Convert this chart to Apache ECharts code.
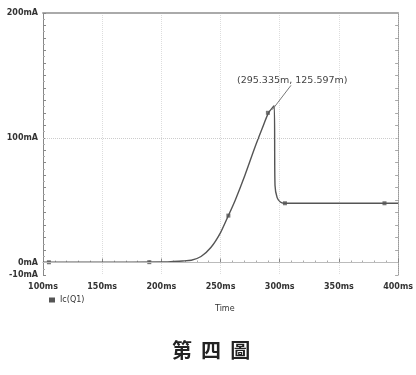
<!DOCTYPE html>
<html>
<head>
<meta charset="utf-8">
<script src="https://cdn.jsdelivr.net/npm/echarts@6/dist/echarts.min.js"></script>
<style>
  html, body { margin: 0; padding: 0; background: #fff; }
  #chart { width: 416px; height: 375px; }
</style>
</head>
<body>
<div id="chart"></div>
<script>
// 时间 (ms) 与 Ic(Q1) (mA)
const timeMs = [100, 150, 200, 210, 218, 225.3, 233.5, 241.8, 250, 256.6, 262.4, 270.6, 278.9, 285.4, 290.5, 295.3, 296.0, 297.8, 300.5, 303.6, 330, 360, 400];
const icMa = [0.2, 0.2, 0.4, 0.8, 1.2, 1.8, 4.8, 12, 24, 37.6, 50, 70, 92, 108, 120, 125.6, 62, 52, 48.5, 47.5, 47.5, 47.5, 47.5];
// 曲线上的标记点
const markerT = [105, 189.8, 256.6, 290.0, 304.4, 388.5];
const markerV = [0.2, 0.3, 37.6, 120, 47.5, 47.5];
const yLabels = [-10, 0, 100, 200];
const peak = [295.335, 125.597];

const chart = echarts.init(document.getElementById('chart'));
const textCol = '#333';

const option = {
  animation: false,
  grid: { left: 43, right: 9, top: 13, bottom: 100 },
  legend: {
    left: 44, top: 291, itemWidth: 6, itemHeight: 5, itemGap: 4,
    textStyle: { fontSize: 8, color: textCol, fontFamily: 'DejaVu Sans' },
    data: [{ name: 'Ic(Q1)', icon: 'rect' }]
  },
  xAxis: [{
    type: 'value', min: 100, max: 400, interval: 50,
    axisLine: { lineStyle: { color: '#999', type: 'dotted', width: 1 } },
    axisTick: { inside: true, length: 4, lineStyle: { color: '#888' } },
    minorTick: { show: true, splitNumber: 5, length: 2, lineStyle: { color: '#aaa' } },
    axisLabel: {
      formatter: v => v + 'ms', fontSize: 8, fontWeight: 'bold', color: textCol,
      fontFamily: 'DejaVu Sans', margin: 8
    },
    splitLine: { show: true, lineStyle: { color: '#ddd', type: 'dotted' } }
  }, {
    type: 'value', min: 100, max: 400, interval: 50, position: 'top',
    axisLine: { show: true, onZero: false, lineStyle: { color: '#aaa', width: 2 } },
    axisTick: { show: false }, axisLabel: { show: false }, splitLine: { show: false }
  }],
  yAxis: [{
    type: 'value', min: -10, max: 200, interval: 10,
    axisLine: { show: true, lineStyle: { color: '#888' } },
    axisTick: { show: true, inside: true, length: 3, lineStyle: { color: '#888' } },
    minorTick: { show: true, splitNumber: 2, length: 2, lineStyle: { color: '#aaa' } },
    axisLabel: {
      formatter: v => (yLabels.includes(v) ? v + 'mA' : ''),
      fontSize: 8, fontWeight: 'bold', color: textCol, fontFamily: 'DejaVu Sans', margin: 5
    },
    splitLine: { show: false }
  }, {
    type: 'value', min: -10, max: 200, interval: 10, position: 'right',
    axisLine: { show: true, onZero: false, lineStyle: { color: '#999', type: 'dotted' } },
    axisTick: { show: true, inside: true, length: 3, lineStyle: { color: '#aaa' } },
    axisLabel: { show: false }, splitLine: { show: false }
  }],
  series: [{
    name: 'Ic(Q1)', type: 'line', showSymbol: false, smooth: 0.25,
    lineStyle: { color: '#555', width: 1.4 },
    itemStyle: { color: '#555' },
    data: timeMs.map((t, i) => [t, icMa[i]]),
    markLine: {
      silent: true, symbol: 'none',
      lineStyle: { color: '#ccc', type: 'dotted', width: 1 },
      label: { show: false },
      data: [{ yAxis: 100 }, { yAxis: 0, lineStyle: { color: '#bbb', type: 'solid' } }]
    }
  }, {
    name: 'Ic(Q1)', type: 'scatter', symbol: 'rect', symbolSize: 4,
    itemStyle: { color: '#555' },
    data: markerT.map((t, i) => [t, markerV[i]])
  }, {
    type: 'line', symbol: 'none', silent: true,
    lineStyle: { color: '#777', width: 1 },
    data: [[peak[0] - 1.5, peak[1] - 3], [309.5, 142]]
  }]
};
chart.setOption(option);

const lab = chart.convertToPixel({ gridIndex: 0 }, [309.5, 142]);
chart.setOption({
  graphic: [{
    type: 'text', left: lab[0] - 54, top: lab[1] - 10,
    style: { text: '(295.335m, 125.597m)', fontSize: 9.5, fill: '#444', fontFamily: 'DejaVu Sans' }
  }, {
    type: 'text', left: 215, top: 305,
    style: { text: 'Time', fontSize: 8, fill: textCol, fontFamily: 'DejaVu Sans' }
  }, {
    type: 'text', left: 172, top: 340,
    style: { text: '第  四  圖', fontSize: 20, fontWeight: 'bold', fill: '#222', fontFamily: 'Noto Sans CJK TC' }
  }]
});
</script>
</body>
</html>
